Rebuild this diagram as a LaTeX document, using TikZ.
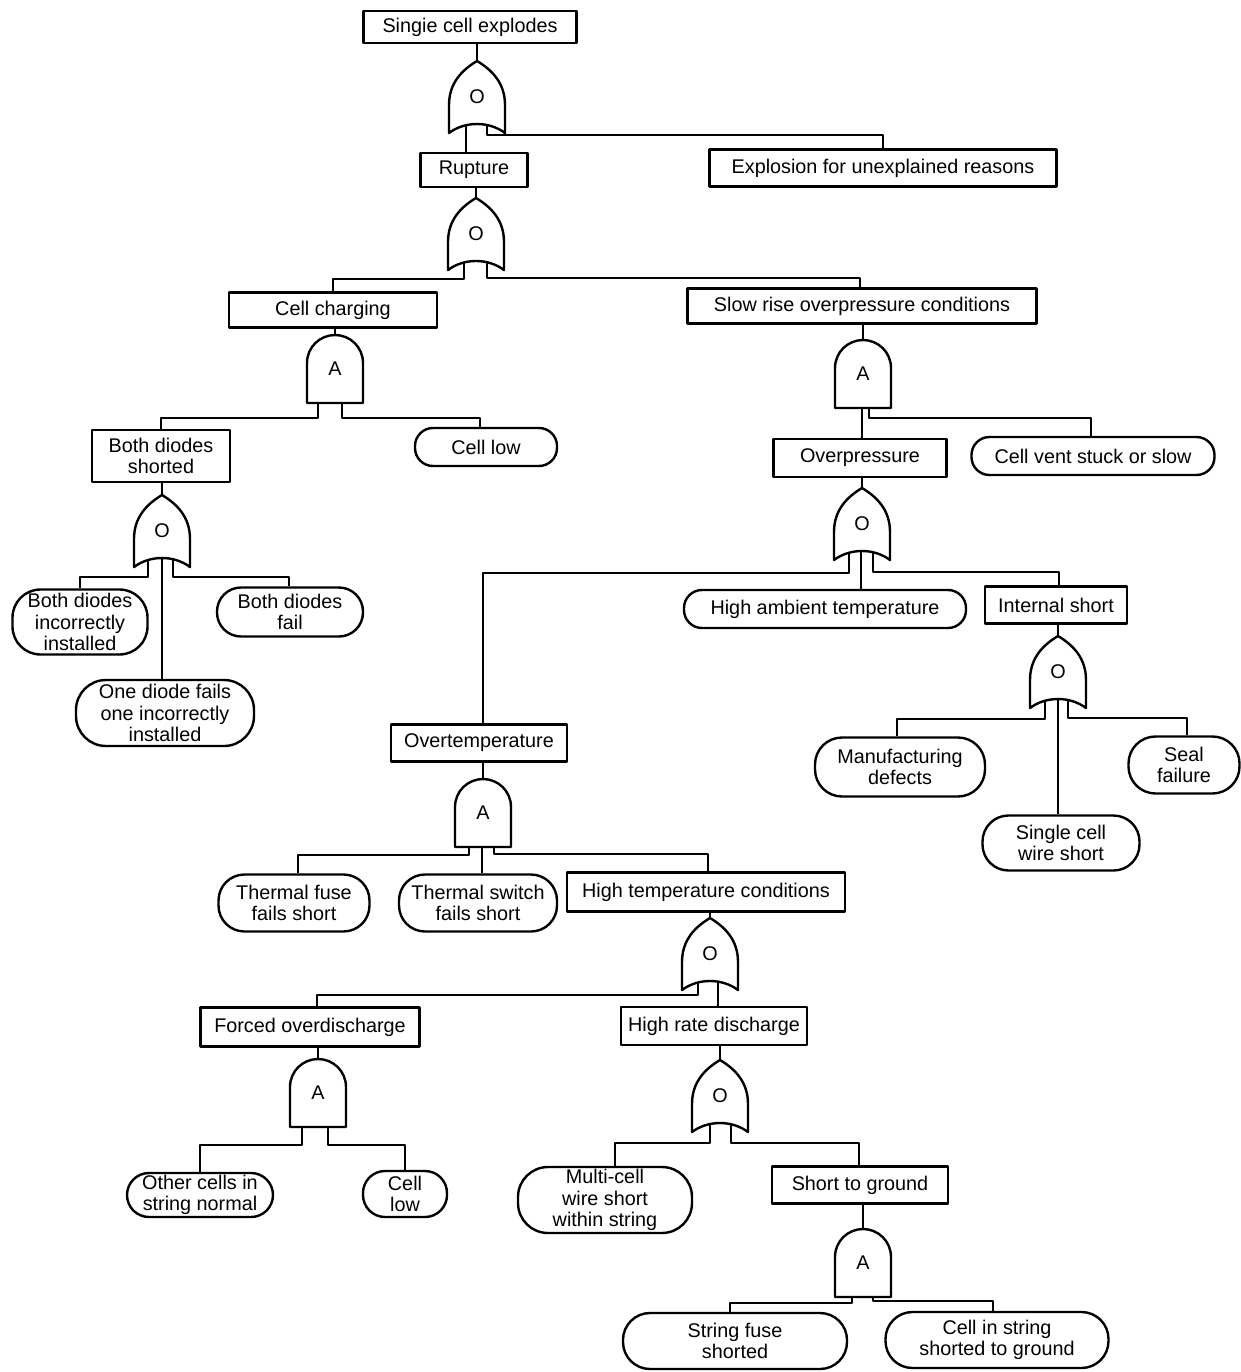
\documentclass[tikz,border=0pt]{standalone}
\usepackage{fontspec}
\setmainfont{Liberation Sans}
\usetikzlibrary{calc}

% OR gate: name, centre x, y of the bottom corners
\newcommand\orgate[3]{%
  \node[gatenode, minimum height=72pt] (#1) at (#2,#3-36) {O};
  \draw[gateline] (#2-28,#3) -- (#2-28,#3-28)
     .. controls (#2-28,#3-50) and (#2-15,#3-63) .. (#2,#3-72)
     .. controls (#2+15,#3-63) and (#2+28,#3-50) .. (#2+28,#3-28)
     -- (#2+28,#3)
     .. controls (#2+12,#3-12) and (#2-12,#3-12) .. cycle;}
% AND gate: name, centre x, y of the flat bottom
\newcommand\andgate[3]{%
  \node[gatenode, minimum height=68pt] (#1) at (#2,#3-34) {A};
  \draw[gateline] (#2-28,#3) -- (#2-28,#3-40)
     .. controls (#2-28,#3-56) and (#2-15,#3-68) .. (#2,#3-68)
     .. controls (#2+15,#3-68) and (#2+28,#3-56) .. (#2+28,#3-40)
     -- (#2+28,#3) -- cycle;}
% straight input line: gate, leg x offset, leg start y offset, target
\newcommand\drop[4]{%
  \path ($(#1.south)+(#2,#3)$) coordinate (legtop);
  \draw[conn] (legtop) -- (legtop |- #4.north);}
% elbow input line: gate, leg x offset, leg start y, bar y, target, landing offset
\newcommand\branch[6]{%
  \path ($(#1.south)+(#2,#3)$) coordinate (legtop)
        ($(#1.south)+(#2,#4)$) coordinate (legbar);
  \draw[conn] (legtop) -- (legbar) -| ($(#5.north)+(#6,0)$);}
% output line from an event down to its gate
\newcommand\feed[2]{\draw[conn] (#1.south -| #2.north) -- (#2.north);}

\begin{document}
\begin{tikzpicture}[x=1pt,y=-1pt, line join=round,
  font=\fontsize{19.8}{21.5}\selectfont,
  box/.style={draw, line width=2.4pt, rectangle, inner sep=0pt, align=center},
  evt/.style={box, rounded corners=#1},
  evt/.default=18pt,
  gatenode/.style={inner sep=0pt, minimum width=56pt},
  gateline/.style={line width=2.4pt},
  conn/.style={line width=1.8pt}]

\useasboundingbox (0,0) rectangle (1240,1372);

% events
\node[box, minimum width=213pt, minimum height=32pt] (top) at (470,27) {Singie cell explodes};
\node[box, minimum width=107pt, minimum height=34pt] (rupture) at (474,170) {Rupture};
\node[box, minimum width=347pt, minimum height=37pt] (expl) at (883,168) {Explosion for unexplained reasons};
\node[box, minimum width=208pt, minimum height=35pt] (charging) at (333,310) {Cell charging};
\node[box, minimum width=349pt, minimum height=35pt] (slowrise) at (862,306) {Slow rise overpressure conditions};
\node[box, minimum width=138pt, minimum height=52pt] (bothshort) at (161,456) {Both diodes\\shorted};
\node[evt, minimum width=142pt, minimum height=38pt] (celllow1) at (486,447) {Cell low};
\node[box, minimum width=173pt, minimum height=38pt] (overp) at (860,458) {Overpressure};
\node[evt, minimum width=243pt, minimum height=38pt] (vent) at (1093,456) {Cell vent stuck or slow};
\node[evt=28pt, minimum width=135pt, minimum height=65pt] (diodeinc) at (80,622) {Both diodes\\incorrectly\\installed};
\node[evt=24pt, minimum width=146pt, minimum height=49pt] (diodefail) at (290,612) {Both diodes\\fail};
\node[evt=30pt, minimum width=178pt, minimum height=66pt] (onediode) at (165,713) {One diode fails\\one incorrectly\\installed};
\node[evt, minimum width=282pt, minimum height=38pt] (ambient) at (825,609) {High ambient temperature};
\node[box, minimum width=142pt, minimum height=37pt] (intshort) at (1056,605) {Internal short};
\node[evt=27pt, minimum width=170pt, minimum height=59pt] (manuf) at (900,767) {Manufacturing\\defects};
\node[evt=27pt, minimum width=111pt, minimum height=57pt] (seal) at (1184,765) {Seal\\failure};
\node[evt=26pt, minimum width=157pt, minimum height=55pt] (singlewire) at (1061,843) {Single cell\\wire short};
\node[box, minimum width=176pt, minimum height=37pt] (overt) at (479,743) {Overtemperature};
\node[evt=26pt, minimum width=151pt, minimum height=57pt] (tfuse) at (294,903) {Thermal fuse\\fails short};
\node[evt=26pt, minimum width=158pt, minimum height=57pt] (tswitch) at (478,903) {Thermal switch\\fails short};
\node[box, minimum width=278pt, minimum height=39pt] (hightemp) at (706,892) {High temperature conditions};
\node[box, minimum width=219pt, minimum height=39pt] (forced) at (310,1027) {Forced overdischarge};
\node[box, minimum width=186pt, minimum height=38pt] (highrate) at (714,1026) {High rate discharge};
\node[evt=22pt, minimum width=146pt, minimum height=44pt] (othercells) at (200,1195) {Other cells in\\string normal};
\node[evt=22pt, minimum width=84pt, minimum height=46pt] (celllow2) at (405,1194) {Cell\\low};
\node[evt=30pt, minimum width=174pt, minimum height=66pt] (multicell) at (605,1200) {Multi-cell\\wire short\\within string};
\node[box, minimum width=176pt, minimum height=37pt] (shortgnd) at (860,1185) {Short to ground};
\node[evt=27pt, minimum width=224pt, minimum height=56pt] (stringfuse) at (735,1341) {String fuse\\shorted};
\node[evt=27pt, minimum width=223pt, minimum height=56pt] (cellstring) at (997,1340) {Cell in string\\shorted to ground};

% gates
\orgate{g1}{477}{133}
\orgate{g2}{476}{270}
\andgate{g3}{335}{403}
\andgate{g4}{863}{408}
\orgate{g5}{162}{567}
\orgate{g6}{862}{560}
\orgate{g7}{1058}{708}
\andgate{g8}{483}{847}
\orgate{g9}{710}{990}
\andgate{g10}{318}{1127}
\orgate{g11}{720}{1132}
\andgate{g12}{863}{1297}

% connections
\feed{top}{g1}
\drop{g1}{-11}{-7}{rupture}
\branch{g1}{10}{-7}{2}{expl}{0}

\feed{rupture}{g2}
\branch{g2}{-12}{-7}{9}{charging}{0}
\branch{g2}{11}{-7}{8}{slowrise}{-2}

\feed{charging}{g3}
\branch{g3}{-17}{0}{15}{bothshort}{0}
\branch{g3}{7}{0}{15}{celllow1}{-6}

\feed{slowrise}{g4}
\drop{g4}{-1}{0}{overp}
\branch{g4}{6}{0}{10}{vent}{-2}

\feed{bothshort}{g5}
\branch{g5}{-14}{-7}{10}{diodeinc}{0}
\drop{g5}{0}{-9}{onediode}
\branch{g5}{11}{-7}{10}{diodefail}{-1}

\feed{overp}{g6}
\branch{g6}{-13}{-7}{13}{overt}{4}
\drop{g6}{-1}{-9}{ambient}
\branch{g6}{11}{-7}{12}{intshort}{3}

\feed{intshort}{g7}
\branch{g7}{-13}{-7}{11}{manuf}{-3}
\drop{g7}{0}{-9}{singlewire}
\branch{g7}{10}{-7}{10}{seal}{3}

\feed{overt}{g8}
\branch{g8}{-14}{0}{8}{tfuse}{4}
\drop{g8}{-1}{0}{tswitch}
\branch{g8}{11}{0}{7}{hightemp}{2}

\feed{hightemp}{g9}
\branch{g9}{-12}{-7}{5}{forced}{7}
\drop{g9}{8}{-8}{highrate}

\feed{forced}{g10}
\branch{g10}{-16}{0}{18}{othercells}{0}
\branch{g10}{10}{0}{18}{celllow2}{0}

\feed{highrate}{g11}
\branch{g11}{-10}{-7}{11}{multicell}{10}
\branch{g11}{11}{-7}{11}{shortgnd}{-1}

\feed{shortgnd}{g12}
\branch{g12}{-11}{0}{6}{stringfuse}{-5}
\branch{g12}{10}{0}{4}{cellstring}{-4}

\end{tikzpicture}
\end{document}
